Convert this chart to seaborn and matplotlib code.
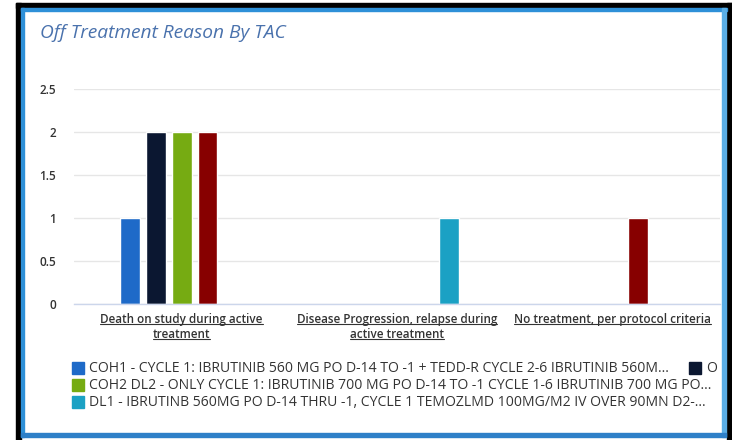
"""Off Treatment Reason By TAC - grouped bar chart recreated with seaborn."""
import matplotlib
matplotlib.use("Agg")

import matplotlib.pyplot as plt
import pandas as pd
import seaborn as sns
from matplotlib.lines import Line2D
from matplotlib.patches import Rectangle
from matplotlib.ticker import FuncFormatter, FixedLocator

# ---- data -------------------------------------------------------------
reasons = [
    "Death on study during active treatment",
    "Disease Progression, relapse during active treatment",
    "No treatment, per protocol criteria",
]
reason_labels = [
    ["Death on study during active", "treatment"],
    ["Disease Progression, relapse during", "active treatment"],
    ["No treatment, per protocol criteria"],
]
series = ["COH1", "O", "COH2 DL2", "S4", "DL1"]
series_colors = ["#1e6ac8", "#0b1731", "#76ab12", "#870000", "#1ba1c4"]
counts = {
    "COH1": [1, None, None],
    "O": [2, None, None],
    "COH2 DL2": [2, None, None],
    "S4": [2, None, 1],
    "DL1": [None, 1, None],
}
legend_texts = {
    "COH1": "COH1 - CYCLE 1: IBRUTINIB 560 MG PO D-14 TO -1 + TEDD-R CYCLE 2-6 IBRUTINIB 560M...",
    "O": "O",
    "COH2 DL2": "COH2 DL2 - ONLY CYCLE 1: IBRUTINIB 700 MG PO D-14 TO -1 CYCLE 1-6 IBRUTINIB 700 MG PO...",
    "DL1": "DL1 - IBRUTINB 560MG PO D-14 THRU -1, CYCLE 1 TEMOZLMD 100MG/M2 IV OVER 90MN D2-...",
}
y_ticks = [0, 0.5, 1, 1.5, 2, 2.5]

rows = []
for name in series:
    for reason, v in zip(reasons, counts[name]):
        if v is not None:
            rows.append({"reason": reason, "series": name, "count": v})
df = pd.DataFrame(rows)

# ---- figure -----------------------------------------------------------
W, H = 732, 440
sns.set_style("white")
plt.rcParams["font.family"] = ["Open Sans", "DejaVu Sans"]

fig = plt.figure(figsize=(W / 100, H / 100), dpi=100)
fig.patch.set_facecolor("white")


def px_box(x0, y0, x1, y1):
    """pixel box (top-left origin) -> figure-fraction rect"""
    return [x0 / W, 1 - y1 / H, (x1 - x0) / W, (y1 - y0) / H]


ax = fig.add_axes(px_box(74, 89, 720, 304))

sns.barplot(
    data=df, x="reason", y="count", hue="series",
    order=reasons, hue_order=series, palette=series_colors,
    width=0.6, gap=0.23, saturation=1, errorbar=None,
    legend=False, ax=ax,
)

ax.set_xlim(-0.5, len(reasons) - 0.5)
ax.set_ylim(0, 2.5)
ax.set_yticks(y_ticks)
ax.yaxis.set_major_formatter(FuncFormatter(lambda v, _: f"{v:g}"))
ax.tick_params(axis="y", length=0, pad=13, labelsize=8.5, labelcolor="#333333")
for lbl in ax.get_yticklabels():
    lbl.set_fontweight("semibold")
ax.yaxis.grid(True, color="#e6e6e6", lw=1)
ax.set_axisbelow(True)
for side in ("top", "right", "left"):
    ax.spines[side].set_visible(False)
ax.spines["bottom"].set_color("#ccd6eb")
ax.spines["bottom"].set_linewidth(1)

# category ticks sit on the boundaries
ax.set_xticks([])
ax.xaxis.set_minor_locator(FixedLocator([i - 0.5 for i in range(len(reasons) + 1)]))
ax.tick_params(axis="x", which="minor", length=8, color="#ccd6eb", width=1)
ax.set_xlabel("")
ax.set_ylabel("")

label_texts = []
for i, lines in enumerate(reason_labels):
    for j, line in enumerate(lines):
        t = ax.text(i, -0.072 - 0.068 * j, line, transform=ax.get_xaxis_transform(),
                    ha="center", va="center", fontsize=8.4, fontweight="semibold",
                    color="#333333")
        label_texts.append(t)

# title
fig.text(40 / W, 1 - 33 / H, "Off Treatment Reason By TAC", fontsize=13.8,
         fontstyle="italic", color="#4a72ad", ha="left", va="center")

# legend (as laid out in the reference)
legend_slots = [("COH1", 72, 368), ("O", 689, 368), ("COH2 DL2", 72, 385), ("DL1", 72, 402)]
for name, lx, ly in legend_slots:
    c = series_colors[series.index(name)]
    fig.patches.append(Rectangle((lx / W, 1 - (ly + 6) / H), 12 / W, 12 / H,
                                 transform=fig.transFigure, color=c))
    fig.text((lx + 17) / W, 1 - ly / H, legend_texts[name], fontsize=10.1,
             color="#333333", ha="left", va="center")

# screenshot frame
for box, col in [
    ((16, 3, 732, 8), "black"), ((16, 3, 21, 440), "black"), ((727, 3, 732, 440), "black"),
    ((21, 8, 727, 11), "#2e90d8"), ((21, 8, 24, 437), "#2e90d8"),
    ((722, 8, 726, 437), "#5aaee6"), ((21, 433, 726, 437), "#2e80c8"),
]:
    r = px_box(*box)
    fig.patches.append(Rectangle((r[0], r[1]), r[2], r[3], transform=fig.transFigure,
                                 color=col, zorder=10))

# underline category labels
fig.canvas.draw()
renderer = fig.canvas.get_renderer()
for t in label_texts:
    bb = t.get_window_extent(renderer)
    fig.add_artist(Line2D([bb.x0 / W, bb.x1 / W], [(bb.y0 + 1.5) / H] * 2,
                          transform=fig.transFigure, color="#333333", lw=0.8))

fig.savefig("out.png", dpi=100)
